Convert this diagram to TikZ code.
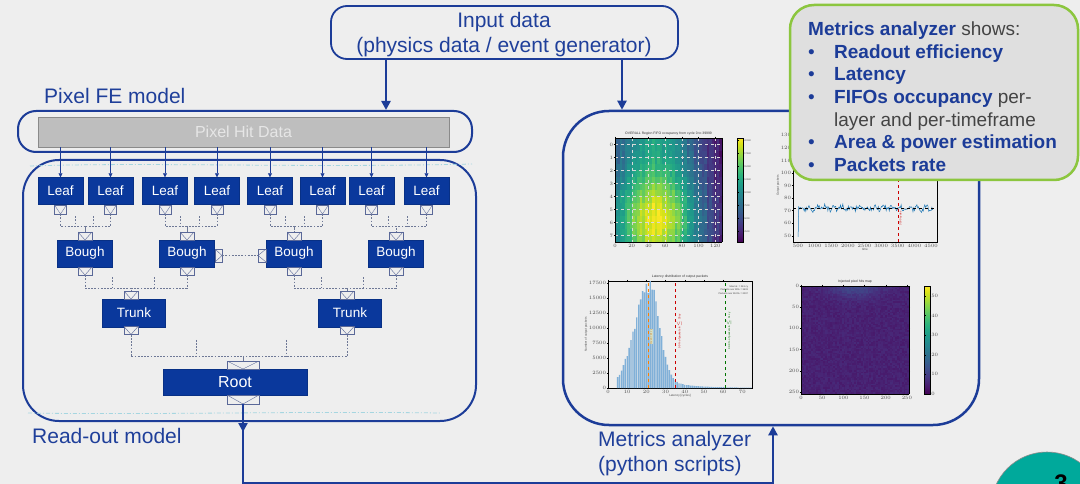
\documentclass[tikz,border=0pt]{standalone}
\usepackage{fontspec}
\setmainfont{Liberation Sans}
\usepackage{pgfplots}
\pgfplotsset{compat=1.18}
\usetikzlibrary{arrows.meta,calc}

\definecolor{bg}{HTML}{EEEEEE}
\definecolor{mblue}{HTML}{1C3C98}
\definecolor{txtblue}{HTML}{1F3F9A}
\definecolor{leafblue}{HTML}{0A389C}
\definecolor{portc}{HTML}{5A6898}
\definecolor{dashc}{HTML}{6E7896}
\definecolor{hitfill}{HTML}{BEBEBE}
\definecolor{hitdraw}{HTML}{8A8A8A}
\definecolor{hittext}{HTML}{E6E6E6}
\definecolor{cyanl}{HTML}{A6D6E0}
\definecolor{greenb}{HTML}{8CC63F}
\definecolor{boxfill}{HTML}{DFDFDF}
\definecolor{mgray}{HTML}{444444}
\definecolor{tealc}{HTML}{00A99B}
\definecolor{mplblue}{HTML}{1F77B4}
\definecolor{histc}{HTML}{80B0D8}

\tikzset{
  frame/.style={draw=mblue, line width=2pt, inner sep=0pt},
  leaf/.style={fill=leafblue, draw=leafblue!85!black, line width=0.4pt, text=white,
    minimum width=45pt, minimum height=27pt, inner sep=0pt, font=\fontsize{13.5}{14}\selectfont},
  port/.style={draw=portc, fill=bg, line width=0.5pt, inner sep=0pt,
    minimum width=12pt, minimum height=9pt,
    path picture={\draw[portc, line width=0.4pt] (path picture bounding box.north west)
      -- (path picture bounding box.south) -- (path picture bounding box.north east);}},
  rport/.style={port, minimum width=7pt, minimum height=13pt,
    path picture={\draw[portc, line width=0.4pt] (path picture bounding box.north west)
      -- (path picture bounding box.east) -- (path picture bounding box.south west);}},
  lport/.style={port, minimum width=8pt, minimum height=13pt,
    path picture={\draw[portc, line width=0.4pt] (path picture bounding box.north east)
      -- (path picture bounding box.west) -- (path picture bounding box.south east);}},
  dsh/.style={draw=dashc, line width=0.55pt, dash pattern=on 1.8pt off 1.4pt},
  thinarr/.style={draw=mblue, line width=0.7pt, -{Triangle[length=4pt,width=4pt]}},
  bigline/.style={draw=mblue, line width=2.5pt},
  bigarr/.style={bigline, -{Triangle[length=9pt,width=9pt]}},
  lbl/.style={anchor=base west, inner sep=0pt, text=txtblue, font=\fontsize{21}{24}\selectfont},
  mtxt/.style={anchor=base west, inner sep=0pt, text=mgray, font=\fontsize{19}{22}\selectfont},
  cyandash/.style={draw=cyanl, line width=0.8pt, dash pattern=on 4pt off 2pt on 1pt off 2pt},
}

\pgfplotsset{
  tinyax/.style={scale only axis, axis line style={line width=0.5pt},
    tick style={black, line width=0.3pt}, major tick length=1.2pt, tick align=outside,
    tick label style={font=\fontsize{2.6}{3}\selectfont, text=black!70, inner sep=0.6pt},
    label style={font=\fontsize{3}{3.5}\selectfont, text=black!70, inner sep=0.6pt},
    title style={font=\fontsize{3.4}{4}\selectfont, text=black!80, inner sep=0.6pt, yshift=-4pt}},
  tinybar/.style={width=6pt, at={(parent axis.north east)}, anchor=north west, xshift=7pt,
    major tick length=1pt, scaled y ticks=false,
    yticklabel style={font=\fontsize{2.4}{3}\selectfont, text=black!70, inner sep=0.6pt,
      /pgf/number format/fixed, /pgf/number format/1000 sep={}}},
}

\begin{document}
\begin{tikzpicture}
\pgfmathsetseed{11}
\begin{scope}[x=1pt,y=-1pt]
\clip (0,0) rectangle (1080,484);
\fill[bg] (0,0) rectangle (1080,484);

% ---- input source ----
\node[frame, line width=1.8pt, rounded corners=16pt, minimum width=347pt, minimum height=53pt] (input) at (504.5,32.5) {};
\node[anchor=base, inner sep=0pt, text=txtblue, font=\fontsize{21}{24}\selectfont] (inl1) at (504,28) {Input data};
\node[anchor=base, inner sep=0pt, text=txtblue, font=\fontsize{21}{24}\selectfont] (inl2) at (504,53) {(physics data / event generator)};

% ---- main frames ----
\node[frame, rounded corners=18pt, minimum width=454pt, minimum height=41pt] (fe) at (245,131.5) {};
\node[frame, rounded corners=36pt, minimum width=453pt, minimum height=261pt] (ro) at (249.5,290.5) {};
\node[frame, line width=2.5pt, rounded corners=46pt, minimum width=416pt, minimum height=314pt] (ma) at (771,268) {};

\node[lbl] (felbl) at (44,103.5) {Pixel FE model};
\node[lbl] (rolbl) at (32,443.5) {Read-out model};
\node[lbl] (malbl1) at (598,446) {Metrics analyzer};
\node[lbl] (malbl2) at (598,471) {(python scripts)};

% faint dashed traces along the read-out frame
\draw[cyandash] (30,166) .. controls (150,162) and (300,168) .. (472,164);
\draw[cyandash] (28,413) .. controls (150,415) and (300,411) .. (440,413);

% ---- pixel hit data ----
\node[fill=hitfill, draw=hitdraw, line width=0.8pt, minimum width=411pt, minimum height=30pt,
  inner sep=0pt, text=hittext, font=\fontsize{16}{18}\selectfont] (phd) at (243.5,132) {Pixel Hit Data};

% ---- leaves ----
\foreach \i/\x in {1/60.5,2/110.5,3/165,4/217,5/270,6/322.5,7/371.5,8/426.5} {
  \node[leaf] (L\i) at (\x,191) {Leaf};
  \node[port] (lp\i) at (\x,209.5) {};
  \draw[thinarr] (phd.south -| L\i) -- (L\i.north);
}

% ---- boughs ----
\foreach \i/\x in {1/85,2/187,3/294,4/396} {
  \node[leaf, minimum width=55pt] (B\i) at (\x,253.5) {Bough};
  \node[port, minimum width=14pt, minimum height=8pt] (bt\i) at (\x,236) {};
  \node[port, minimum width=14pt, minimum height=8pt] (bb\i) at (\x,271) {};
}
\node[rport] (bs2) at (218.5,255.5) {};
\node[lport] (bs3) at (262,255.5) {};
\draw[dsh] (bs2.east) -- (bs3.west);

% ---- trunks ----
\foreach \i/\x/\p in {1/134/131,2/350/347} {
  \node[leaf, minimum width=63pt, minimum height=28pt] (T\i) at (\x,313) {Trunk};
  \node[port, minimum width=14pt, minimum height=8pt] (tt\i) at (\p,295) {};
  \node[port, minimum width=14pt, minimum height=8pt] (tb\i) at (\p,330.5) {};
}

% ---- root ----
\node[leaf, minimum width=144pt, minimum height=26pt, font=\fontsize{16}{18}\selectfont] (R) at (235,382) {Root};
\node[port, minimum width=32pt, minimum height=8pt] (rtp) at (243,365) {};
\node[port, minimum width=32pt, minimum height=9pt] (rbp) at (243,399.5) {};

% ---- dashed tree links ----
\foreach \a/\b/\p in {1/2/1,3/4/2,5/6/3,7/8/4} {
  \draw[dsh] (lp\a.south) -- ++(0,12) -| (bt\p.north);
  \draw[dsh] (lp\b.south) -- ++(0,12) -| (bt\p.north);
  \draw[dsh] ($(lp\a.south)!0.3!(lp\b.south)+(0,2)$) -- ++(0,10);
  \draw[dsh] ($(lp\a.south)!0.65!(lp\b.south)+(0,2)$) -- ++(0,10);
}
\foreach \a/\b/\p in {1/2/1,3/4/2} {
  \draw[dsh] (bb\a.south) -- ++(0,13) -| (tt\p.north);
  \draw[dsh] (bb\b.south) -- ++(0,13) -| (tt\p.north);
  \draw[dsh] ($(bb\a.south)!0.27!(bb\b.south)+(0,2)$) -- ++(0,11);
  \draw[dsh] ($(bb\a.south)!0.68!(bb\b.south)+(0,2)$) -- ++(0,11);
}
\draw[dsh] (tb1.south) -- ++(0,22) -| (rtp.north);
\draw[dsh] (tb2.south) -- ++(0,22) -| (rtp.north);
\draw[dsh] ($(tb1.south)!0.3!(tb2.south)+(0,5)$) -- ++(0,17);
\draw[dsh] ($(tb1.south)!0.72!(tb2.south)+(0,5)$) -- ++(0,17);

% ---- main data flow ----
\coordinate (xa) at (386,0);
\coordinate (xb) at (622,0);
\coordinate (xc) at (773,0);
\coordinate (ya) at (0,432);
\coordinate (yb) at (0,483);
\draw[bigarr] (input.south -| xa) -- (fe.north -| xa);
\draw[bigarr] (input.south -| xb) -- (ma.north -| xb);
\draw[bigarr] (rbp.south) |- (xc |- yb) -- (ma.south -| xc);
\draw[bigarr] (rbp.south) -- (rbp.south |- ya);
\end{scope}

% ---- region FIFO occupancy map ----
\begin{axis}[tinyax, at={(615pt,-242pt)}, anchor=south west, width=107pt, height=104pt,
  view={0}{90}, xmin=0, xmax=128, ymin=-0.5, ymax=7.5, y dir=reverse, enlargelimits=false,
  xtick={0,20,...,120}, ytick={0,...,7}, grid=major,
  grid style={white!70!gray, dashed, line width=0.35pt}, axis on top,
  colormap/viridis, point meta min=0, point meta max=1,
  colorbar, colorbar style={tinybar, ytick={0.1,0.225,...,0.99}, yticklabels={2500,5000,7500,10000,12500,15000,17500,20000}},
  title={OVERALL Region FIFO occupancy from cycle 0 to 39999}]
\addplot3[surf, shader=flat corner, domain=0:128, y domain=-0.5:7.5, samples=44, samples y=17]
  {0.95*exp(-((x-48)^2)/3000)*(0.55+0.45*exp(-((y-5.5)^2)/12)) + 0.05*(1-x/128) + 0.035*rand + 0.03*sin(deg(x*1.3))};
\end{axis}

% ---- output packets over time ----
\begin{axis}[tinyax, at={(793pt,-242pt)}, anchor=south west, width=144pt, height=113pt,
  xmin=350, xmax=4680, ymin=45, ymax=135, xtick={500,1000,...,4500}, ytick={50,60,...,130},
  scaled x ticks=false, xticklabel style={/pgf/number format/1000 sep={}},
  xlabel={time}, ylabel={Output packets}]
\addplot[mplblue, line width=0.5pt, samples=170, domain=545:4550] {72+2.2*rand+1.3*sin(deg(x/40))};
\addplot[mplblue, line width=0.5pt] coordinates {(505,49) (520,73) (545,72)};
\draw[black, dashed, line width=0.4pt] (axis cs:350,72) -- (axis cs:4680,72);
\draw[red!80!black, dashed, line width=0.4pt] (axis cs:3500,45) -- (axis cs:3500,135);
\node[rotate=90, font=\fontsize{2.6}{3}\selectfont, text=red!80!black, inner sep=0pt] at (axis cs:3590,64) {3500 cycles};
\end{axis}

% ---- latency histogram ----
\begin{axis}[tinyax, at={(608pt,-388pt)}, anchor=south west, width=144pt, height=107pt,
  xmin=0, xmax=75, ymin=0, ymax=17800, xtick={0,10,...,70}, ytick={0,2500,...,17500},
  scaled y ticks=false, yticklabel style={/pgf/number format/fixed, /pgf/number format/1000 sep={}},
  xlabel={Latency [cycles]}, ylabel={Number of output packets},
  title={Latency distribution of output packets}]
\addplot[ybar, bar width=0.72, bar shift=0pt, fill=histc, draw=none, domain=5:75, samples=71]
  {max(0,((x<22)*17000*exp(-((x-22)^2)/130) + (x>=22)*(14600*exp(-((x-22)^2)/49) + 2500*exp(-(x-22)/9) + 400*exp(-(x-22)/25)))*(1+0.08*rand))};
\draw[orange, dashed, line width=0.4pt] (axis cs:20.7,0) -- (axis cs:20.7,17800);
\draw[red!80!black, dashed, line width=0.4pt] (axis cs:35,0) -- (axis cs:35,17800);
\draw[green!45!black, dashed, line width=0.4pt] (axis cs:61,0) -- (axis cs:61,17800);
\node[rotate=90, font=\fontsize{2.4}{3}\selectfont, text=orange!80!black, fill=yellow!25, inner sep=0.3pt, fill opacity=0.6, text opacity=1] at (axis cs:22.6,8500) {mean = 21 cy};
\node[rotate=90, font=\fontsize{2.6}{3}\selectfont, text=red!80!black, inner sep=0pt] at (axis cs:37,9500) {99 \% of packets in $\leq$ 35 cy};
\node[rotate=90, font=\fontsize{2.6}{3}\selectfont, text=green!45!black, inner sep=0pt] at (axis cs:63,9500) {99.9 \% of packets in $\leq$ 61 cy};
\node[align=right, font=\fontsize{2.4}{3.2}\selectfont, text=black!75, inner sep=0pt, anchor=north east] at (axis cs:73,17000) {Max lat. = 261 cy\\Packets over 99\% = 3603\\Packets over 99.9\% = 2097};
\end{axis}

% ---- injected pixel hits map ----
\begin{axis}[tinyax, at={(801pt,-394pt)}, anchor=south west, width=108pt, height=108pt,
  view={0}{90}, xmin=0, xmax=255, ymin=0, ymax=255, y dir=reverse, enlargelimits=false,
  xtick={0,50,...,250}, ytick={0,50,...,250},
  colormap/viridis, point meta min=0, point meta max=55,
  colorbar, colorbar style={tinybar, ytick={0,10,...,50}},
  title={Injected pixel hits map}]
\addplot3[surf, shader=flat corner, domain=0:255, y domain=0:255, samples=64, samples y=64]
  {max(0,5+1.4*rand+7*exp(-((x-128)/60)^2-(y/26)^2))};
\end{axis}

\begin{scope}[x=1pt,y=-1pt]
\clip (0,0) rectangle (1080,484);
% ---- summary box ----
\node[draw=greenb, fill=boxfill, line width=2.5pt, rounded corners=24pt,
  minimum width=288pt, minimum height=175pt, inner sep=0pt] (sum) at (934,92.5) {};
\node[mtxt] (s0) at (808,36) {\textcolor{mblue}{\bfseries Metrics analyzer} shows:};
\foreach \y/\t [count=\k] in {58.5/{\textcolor{mblue}{\bfseries Readout efficiency}},
    81/{\textcolor{mblue}{\bfseries Latency}},
    104/{\textcolor{mblue}{\bfseries FIFOs occupancy} per-},
    149/{\textcolor{mblue}{\bfseries Area \& power estimation}},
    172/{\textcolor{mblue}{\bfseries Packets rate}}} {
  \node[mtxt, text=mblue] (bul\k) at (808,\y) {•};
  \node[mtxt] (it\k) at (834,\y) {\t};
}
\node[mtxt] (itx) at (834,126.5) {layer and per-timeframe};

% ---- page marker ----
\node[circle, fill=tealc, draw=black!45, line width=0.6pt, minimum size=112pt, inner sep=0pt] (pg) at (1047,508) {};
\node[anchor=north, inner sep=0pt, font=\bfseries\fontsize{24}{24}\selectfont] (pgn) at (1061,475) {3};
\end{scope}

% fixed page frame
\pgfresetboundingbox
\path[use as bounding box] (0pt,0pt) rectangle (1080pt,-484pt);
\end{tikzpicture}
\end{document}
